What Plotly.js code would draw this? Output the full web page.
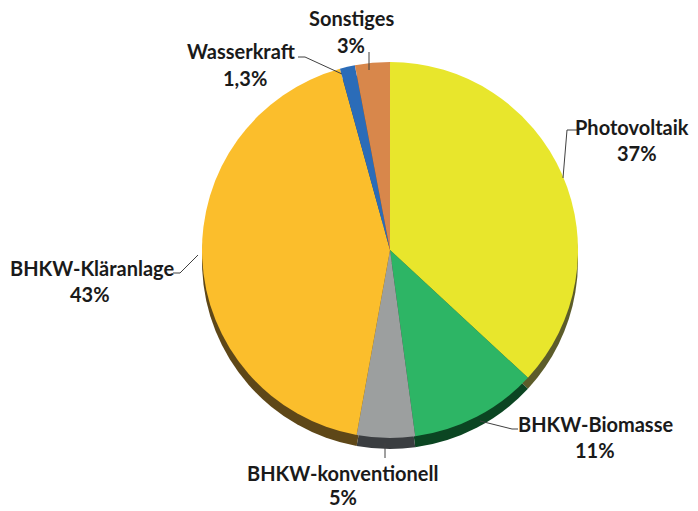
<!DOCTYPE html>
<html>
<head>
<meta charset="utf-8">
<script src="https://cdn.plot.ly/plotly-3.0.1.min.js"></script>
<style>html,body{margin:0;padding:0;background:#fff;}#chart{width:698px;height:511px;}</style>
</head>
<body>
<div id="chart"></div>
<script>
const categories = ["Photovoltaik", "BHKW-Biomasse", "BHKW-konventionell", "BHKW-Kläranlage", "Wasserkraft", "Sonstiges"];
const shares = [37, 11, 5, 43, 1.3, 3];
const shareLabels = ["37%", "11%", "5%", "43%", "1,3%", "3%"];
const topColors = ["#E8E62C", "#2DB565", "#9C9F9F", "#FBBE2C", "#2B6CB8", "#D8874B"];
const sideColors = ["#5C5C2A", "#0B4522", "#3A3D40", "#5E4718", "#1A3D66", "#6E4525"];

const W = 698, H = 511;
const px = x => x / W;
const py = y => 1 - y / H;

const cx = 390, cy = 250, r = 188, depth = 11;

const pieBase = {
  type: "pie",
  values: shares,
  labels: categories,
  sort: false,
  direction: "clockwise",
  rotation: 0,
  textinfo: "none",
  hoverinfo: "skip",
  showlegend: false,
  marker: {line: {width: 0}}
};

const sidePie = Object.assign({}, pieBase, {
  domain: {x: [px(cx - r), px(cx + r)], y: [py(cy + depth + r), py(cy + depth - r)]},
  marker: {colors: sideColors, line: {width: 0}}
});
const topPie = Object.assign({}, pieBase, {
  domain: {x: [px(cx - r), px(cx + r)], y: [py(cy + r), py(cy - r)]},
  marker: {colors: topColors, line: {width: 0}}
});

// label placement (pixels): [labelX, labelY, pctX, pctY]
const labelPos = [
  [632, 127, 637, 153],
  [595, 424, 595, 450],
  [342, 473, 343, 497],
  [92, 268, 90, 294],
  [242, 51, 245, 78],
  [351, 18, 351, 45]
];
const font = {family: "Lato, 'Open Sans', sans-serif", size: 20, color: "#1a1a1a"};
const annotations = [];
categories.forEach((c, i) => {
  const p = labelPos[i];
  annotations.push({x: px(p[0]), y: py(p[1]), xref: "paper", yref: "paper", text: "<b>" + c + "</b>", showarrow: false, font: font, xanchor: "center", yanchor: "middle"});
  annotations.push({x: px(p[2]), y: py(p[3]), xref: "paper", yref: "paper", text: "<b>" + shareLabels[i] + "</b>", showarrow: false, font: font, xanchor: "center", yanchor: "middle"});
});

// leader lines (pixels)
const leaders = [
  [[577,130],[567,130],[563,178]],
  [[518,429],[512,429],[480,421]],
  [[385,458],[385,443]],
  [[173,273],[180,273],[198,255]],
  [[298,57],[305,57],[342,74]],
  [[369,52],[369,70]]
];
const shapes = leaders.map(pts => ({
  type: "path",
  xref: "paper", yref: "paper",
  path: pts.map((p, k) => (k ? "L" : "M") + px(p[0]) + "," + py(p[1])).join(" "),
  line: {color: "#404040", width: 1}
}));

const layout = {
  width: W, height: H,
  margin: {l: 0, r: 0, t: 0, b: 0},
  paper_bgcolor: "#ffffff",
  plot_bgcolor: "#ffffff",
  annotations: annotations,
  shapes: shapes,
  showlegend: false
};

Plotly.newPlot("chart", [sidePie, topPie], layout, {staticPlot: true, displayModeBar: false});
</script>
</body>
</html>
